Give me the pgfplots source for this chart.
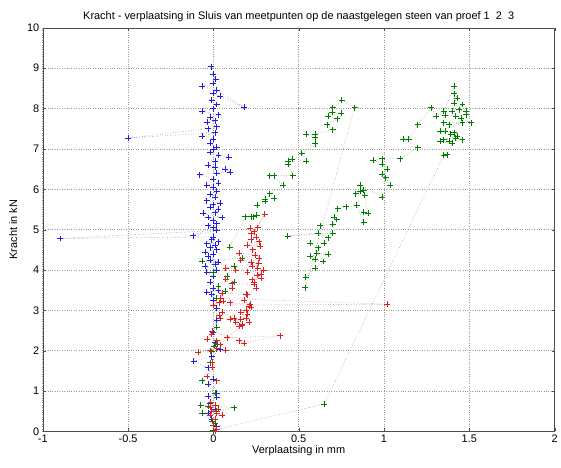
\documentclass[border=0pt]{standalone}
\usepackage{pgfplots}
\usepackage{pgfplotstable}
\pgfplotsset{compat=1.18}
\usepackage{fontspec}
\setmainfont{Liberation Sans}
\definecolor{mblue}{RGB}{30,30,230}
\definecolor{mred}{RGB}{225,30,30}
\definecolor{mgreen}{RGB}{0,125,0}
\pgfplotstableread{
x y
0.00 0.02
0.02 0.12
-0.01 0.30
-0.03 0.45
0.01 0.55
-0.02 0.70
-0.03 0.88
0.02 0.95
0.02 0.85
-0.03 1.17
0.00 1.30
-0.03 1.58
-0.115 1.74
-0.01 1.85
0.04 2.03
0.01 2.20
0.00 2.45
0.02 2.75
0.02 3.05
0.00 3.25
-0.01 3.40
0.00 3.55
-0.04 3.45
0.03 3.50
-0.02 3.70
0.00 3.85
-0.04 3.95
0.02 4.00
-0.05 4.10
0.01 4.15
-0.02 4.25
0.03 4.20
-0.03 4.35
0.00 4.40
-0.05 4.45
0.02 4.50
-0.02 4.55
0.01 4.62
-0.04 4.65
0.03 4.70
-0.01 4.75
0.00 4.82
-0.90 4.78
0.02 4.98
-0.12 4.85
0.00 5.05
-0.03 5.10
0.02 5.15
0.00 5.22
-0.03 5.30
0.05 5.30
-0.06 5.40
0.01 5.42
0.03 5.50
-0.02 5.55
0.00 5.62
0.04 5.65
-0.04 5.72
0.01 5.80
-0.02 5.88
0.02 5.95
0.00 6.05
-0.04 6.10
0.03 6.15
0.00 6.25
-0.08 6.36
0.02 6.40
0.10 6.43
0.07 6.50
0.01 6.55
-0.03 6.60
0.01 6.70
0.09 6.80
0.03 6.85
-0.02 6.92
0.00 7.00
0.02 7.05
-0.02 7.15
0.00 7.25
-0.064 7.32
0.01 7.40
-0.50 7.27
-0.03 7.50
0.02 7.55
-0.035 7.66
0.01 7.70
-0.02 7.78
0.03 7.85
-0.064 7.93
0.00 8.00
0.02 8.10
-0.01 8.20
0.04 8.30
0.00 8.38
0.18 8.03
0.02 8.45
-0.064 8.55
0.00 8.62
0.013 8.72
0.00 8.85
-0.015 9.04
}\blueData
\pgfplotstableread{
x y
0.00 0.03
0.01 0.20
-0.006 0.25
-0.064 0.45
0.02 0.50
0.12 0.59
-0.074 0.65
0.014 0.65
-0.03 0.62
0.01 0.95
-0.064 1.26
-0.02 1.70
-0.01 1.98
0.006 2.12
0.023 2.16
0.02 2.58
0.02 3.30
0.03 3.60
0.07 3.47
0.12 3.70
0.08 3.85
0.00 3.95
0.12 4.10
-0.064 4.22
0.169 4.29
0.095 4.56
0.188 5.32
0.236 5.32
0.222 5.32
0.253 5.36
0.257 5.61
0.305 5.70
0.305 5.75
0.356 5.78
0.33 5.89
0.41 6.11
0.33 6.34
0.356 6.34
0.465 6.34
0.437 6.69
0.44 6.63
0.46 6.75
0.543 6.69
0.518 6.90
0.596 7.13
0.596 7.28
0.543 7.36
0.596 7.36
0.699 7.48
0.668 7.60
0.727 7.75
0.674 7.81
0.75 7.88
0.694 7.91
0.699 8.02
0.751 8.21
0.828 8.02
0.538 3.56
0.541 3.82
0.596 4.05
0.645 4.21
0.596 4.26
0.567 4.34
0.674 4.40
0.606 4.42
0.615 4.55
0.567 4.67
0.648 4.67
0.674 4.80
0.615 4.92
0.435 4.84
0.699 4.92
0.625 5.10
0.699 5.13
0.722 5.25
0.709 5.31
0.728 5.52
0.78 5.57
0.84 5.60
0.881 5.18
0.881 5.44
0.906 5.40
0.887 5.85
0.834 5.89
0.86 5.95
0.881 5.98
0.86 6.11
0.99 5.81
1.037 6.11
1.01 6.29
0.99 6.37
1.017 6.50
0.99 6.63
0.936 6.72
0.99 6.76
1.095 6.76
1.197 7.03
1.114 7.25
1.145 7.25
1.197 7.60
1.275 8.02
1.305 7.82
1.35 7.93
1.41 8.55
1.41 8.37
1.43 8.26
1.41 8.14
1.46 8.10
1.40 7.93
1.44 7.97
1.48 7.93
1.48 7.85
1.36 7.83
1.42 7.81
1.45 7.77
1.51 7.65
1.35 7.65
1.38 7.60
1.46 7.65
1.33 7.44
1.36 7.44
1.41 7.40
1.39 7.36
1.43 7.31
1.35 7.23
1.42 7.27
1.46 7.23
1.38 7.19
1.33 7.19
1.40 7.15
1.37 6.86
1.35 6.84
0.65 0.68
0.02 0.05
}\greenData
\pgfplotstableread{
x y
0.01 0.00
0.02 0.05
0.00 0.15
0.01 0.30
-0.02 0.40
0.05 0.40
0.02 0.45
-0.01 0.50
0.03 0.55
-0.02 0.60
0.01 0.65
-0.016 0.73
0.02 1.26
-0.035 1.36
-0.006 1.60
-0.006 1.71
-0.02 2.00
-0.09 1.97
0.02 2.05
0.072 2.02
0.04 2.15
0.02 2.25
-0.035 2.29
-0.01 2.41
-0.006 2.49
0.15 2.25
0.18 2.18
0.39 2.37
0.08 2.32
0.17 2.62
0.15 2.60
0.13 2.70
0.16 2.78
0.10 2.78
0.04 2.80
0.033 2.88
0.20 2.90
0.19 3.00
0.22 3.08
0.217 3.15
0.097 3.19
0.058 3.22
0.033 3.19
0.00 3.13
1.02 3.15
0.04 3.30
0.052 3.43
0.198 3.39
0.11 3.55
0.072 3.77
0.11 3.66
0.237 3.64
0.227 3.76
0.28 3.80
0.256 3.88
0.20 3.95
0.295 4.00
0.227 4.09
0.13 4.00
0.072 4.05
0.266 4.17
0.16 4.25
0.246 4.37
0.15 4.42
0.198 4.62
0.276 4.59
0.22 4.75
0.25 4.82
0.222 4.90
0.216 5.03
0.26 5.05
0.30 5.38
0.24 4.95
0.27 4.70
0.23 4.50
0.27 4.30
0.22 4.20
0.26 4.05
0.28 3.90
0.24 3.70
0.25 3.55
0.19 3.40
0.18 3.25
0.21 3.10
0.16 2.95
0.19 2.80
0.21 2.70
0.17 2.65
0.12 2.80
0.05 2.95
}\redData
\begin{document}
\begin{tikzpicture}
\begin{axis}[name=ax,
  scale only axis, width=515pt, height=406pt,
  xmin=-1, xmax=2, ymin=0, ymax=10,
  xtick={-1,-0.5,0,0.5,1,1.5,2}, ytick={0,1,...,10},
  /pgf/number format/assume math mode=true,
  /pgf/number format/fixed,
  tick align=inside, tick pos=both, major tick length=3pt,
  axis line style={draw=black!70},
  tick style={draw=black!70},
  grid=major, major grid style={dotted, draw=black!40, line width=0.5pt},
  title={Kracht - verplaatsing in Sluis van meetpunten op de naastgelegen steen van proef 1\ \ 2\ \ 3},
  title style={font=\fontsize{11}{13}\selectfont, yshift=-3pt},
  xlabel={Verplaatsing in mm}, ylabel={Kracht in kN},
  label style={font=\fontsize{11}{13}\selectfont},
  xlabel style={yshift=4pt}, ylabel style={yshift=3pt},
  every tick label/.append style={font=\fontsize{11}{13}\selectfont},
  clip=false,
]
\addplot[mblue!35!gray!70!white, dotted, line width=0.6pt, no marks] table {\blueData};
\addplot[mgreen!35!gray!70!white, dotted, line width=0.6pt, no marks] table {\greenData};
\addplot[mred!35!gray!70!white, dotted, line width=0.6pt, no marks] table {\redData};
\addplot[mblue, only marks, mark=+, mark size=3pt, mark options={solid, line width=0.6pt}] table {\blueData};
\addplot[mgreen, only marks, mark=+, mark size=3pt, mark options={solid, line width=0.6pt}] table {\greenData};
\addplot[mred, only marks, mark=+, mark size=3pt, mark options={solid, line width=0.6pt}] table {\redData};
\end{axis}
\path (ax.south west) ++(-43pt,-36pt);
\path (ax.north east) ++(4pt,28pt);
\end{tikzpicture}
\end{document}
